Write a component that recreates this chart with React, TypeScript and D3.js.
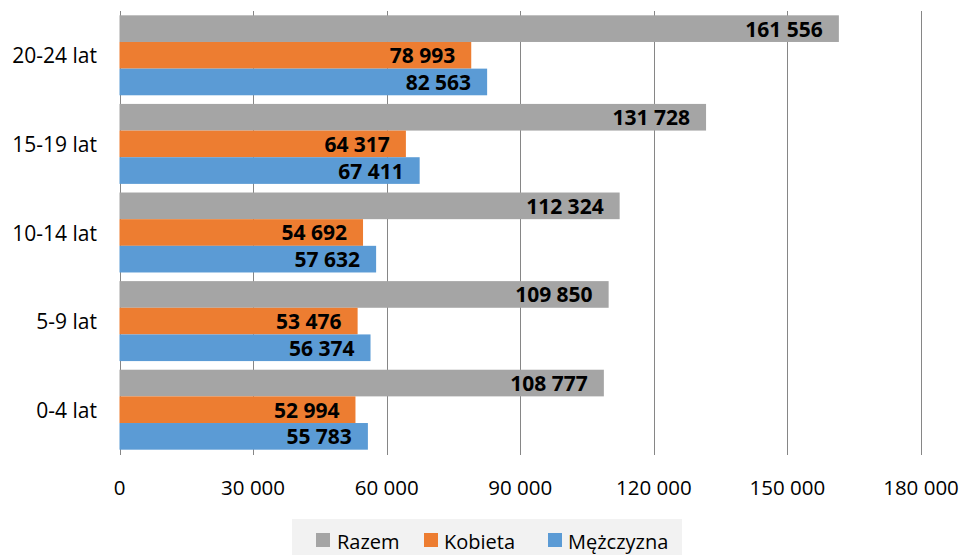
import React from "react";
import * as d3 from "d3";

const categories = ["20-24 lat", "15-19 lat", "10-14 lat", "5-9 lat", "0-4 lat"];
const seriesNames = ["Razem", "Kobieta", "Mężczyzna"];
const razem = [161556, 131728, 112324, 109850, 108777];
const kobieta = [78993, 64317, 54692, 53476, 52994];
const mezczyzna = [82563, 67411, 57632, 56374, 55783];
const xTicks = [0, 30000, 60000, 90000, 120000, 150000, 180000];
const colors = ["#a5a5a5", "#ed7d31", "#5b9bd5"];

const W = 963;
const H = 555;
const FONT = "'Open Sans', 'Liberation Sans', sans-serif";

const locale = d3.formatLocale({ decimal: ",", thousands: " ", grouping: [3], currency: ["", " zł"] });
const fmt = locale.format(",d");

export default function App() {
  const values = [razem, kobieta, mezczyzna];
  const x = d3.scaleLinear().domain([0, 180000]).range([119.5, 921]);
  const y = d3.scaleBand<string>().domain(categories).range([11, 454]).padding(0);
  const inner = d3
    .scaleBand<string>()
    .domain(seriesNames)
    .range([0, y.bandwidth()])
    .paddingInner(0)
    .paddingOuter(0.162);

  const legendItems = [
    { name: "Razem", sx: 316, tx: 337 },
    { name: "Kobieta", sx: 424, tx: 444 },
    { name: "Mężczyzna", sx: 548, tx: 568 },
  ];

  return (
    <svg
      width={W}
      height={H}
      style={{ position: "absolute", left: 0, top: 0, background: "#fff" }}
      fontFamily={FONT}
    >
      {/* gridlines */}
      {xTicks.map((t) => (
        <line
          key={"g" + t}
          x1={Math.round(x(t)) + 0.5}
          x2={Math.round(x(t)) + 0.5}
          y1={11}
          y2={455}
          stroke="#868686"
          strokeWidth={1}
        />
      ))}
      {/* bars */}
      {categories.map((c, ci) => (
        <g key={c} transform={`translate(0,${y(c)})`}>
          {seriesNames.map((s, si) => {
            const v = values[si][ci];
            const by = inner(s)!;
            const bh = inner.bandwidth();
            return (
              <g key={s}>
                <rect x={x(0)} y={by} width={x(v) - x(0)} height={bh} fill={colors[si]} />
                <text
                  x={x(v) - 16}
                  y={by + bh / 2}
                  textAnchor="end"
                  dominantBaseline="central"
                  fontSize={21}
                  fontWeight="bold"
                  fill="#000"
                >
                  {fmt(v)}
                </text>
              </g>
            );
          })}
        </g>
      ))}
      {/* category labels */}
      {categories.map((c) => (
        <text
          key={"l" + c}
          x={97}
          y={y(c)! + y.bandwidth() / 2}
          textAnchor="end"
          dominantBaseline="central"
          fontSize={21}
          fill="#000"
        >
          {c}
        </text>
      ))}
      {/* x tick labels */}
      {xTicks.map((t) => (
        <text
          key={"t" + t}
          x={x(t)}
          y={487}
          textAnchor="middle"
          dominantBaseline="central"
          fontSize={20.5}
          fill="#000"
        >
          {fmt(t)}
        </text>
      ))}
      {/* legend */}
      <rect x={292} y={519} width={390} height={36} fill="#f2f2f2" />
      {legendItems.map((it, i) => (
        <g key={it.name}>
          <rect x={it.sx} y={533} width={14} height={14} fill={colors[i]} />
          <text x={it.tx} y={541} dominantBaseline="central" fontSize={20} fill="#000">
            {seriesNames[i]}
          </text>
        </g>
      ))}
    </svg>
  );
}
